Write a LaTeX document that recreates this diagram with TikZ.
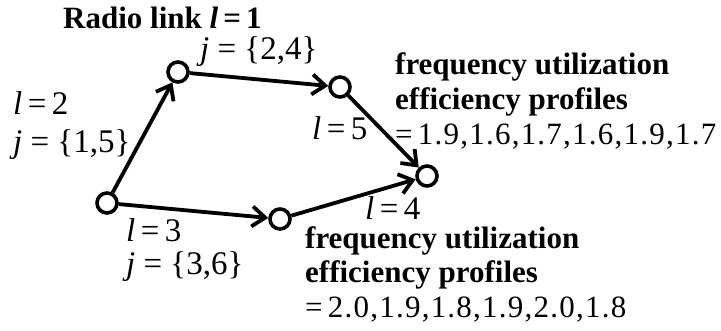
\documentclass[tikz,border=0pt]{standalone}
\usepackage{fontspec}
\setmainfont{Liberation Serif}
\usetikzlibrary{arrows.meta}

\begin{document}
\begin{tikzpicture}[
    x=1pt, y=-1pt,
    % circulos de los nodos y flechas gruesas
    vert/.style={
        circle,
        draw=black,
        fill=white,
        line width=3.6pt,
        minimum size=20pt,
        inner sep=0pt
    },
    % el ancla base cae en la ultima linea del texto
    lbl/.style={
        anchor=base west,
        inner sep=0pt,
        align=left,
        font=\fontsize{31}{35}\selectfont
    },
    % etiquetas de enlace algo mayores
    lnk/.style={lbl, font=\fontsize{33}{#1}\selectfont},
    lnk/.default=35,
    arr/.style={-{Straight Barb[length=13pt, width=20pt]}, line width=3.8pt, draw=black}
]
    \useasboundingbox (0,0) rectangle (721,331);

    % --- NODOS ---
    \node[vert] (a) at (107,203) {};
    \node[vert] (b) at (178,72) {};
    \node[vert] (c) at (340,87) {};
    \node[vert] (d) at (427,176) {};
    \node[vert] (e) at (280,219) {};

    % --- ENLACES ---
    \draw[arr] (a) -- (b);
    \draw[arr] (b) -- (c);
    \draw[arr] (c) -- (d);
    \draw[arr] (a) -- (e);
    \draw[arr] (e) -- (d);

    % --- ETIQUETAS ---
    \node[lbl] (radio) at (63,29) {\textbf{Radio link \textit{l}\,=\,1}};
    \node[lnk] (j1) at (200,60) {\textit{j} = \{2,4\}};
    \node[lnk=38] (l2) at (13,153) {\textit{l}\,=\,2\\\textit{j} = \{1,5\}};
    \node[lnk] (l5) at (312,140) {\textit{l}\,=\,5};
    \node[lnk=33] (l3) at (126,275) {\textit{l}\,=\,3\\\textit{j} = \{3,6\}};
    \node[lnk] (l4) at (365,220) {\textit{l}\,=\,4};

    % perfiles de eficiencia
    \node[lbl] (prof1) at (395,145) {\textbf{frequency utilization}\\\textbf{efficiency profiles}\\{\addfontfeature{LetterSpace=4}=\,1.9,1.6,1.7,1.6,1.9,1.7}};
    \node[lbl] (prof2) at (305,318) {\textbf{frequency utilization}\\\textbf{efficiency profiles}\\{\addfontfeature{LetterSpace=4}=\,2.0,1.9,1.8,1.9,2.0,1.8}};

\end{tikzpicture}
\end{document}
